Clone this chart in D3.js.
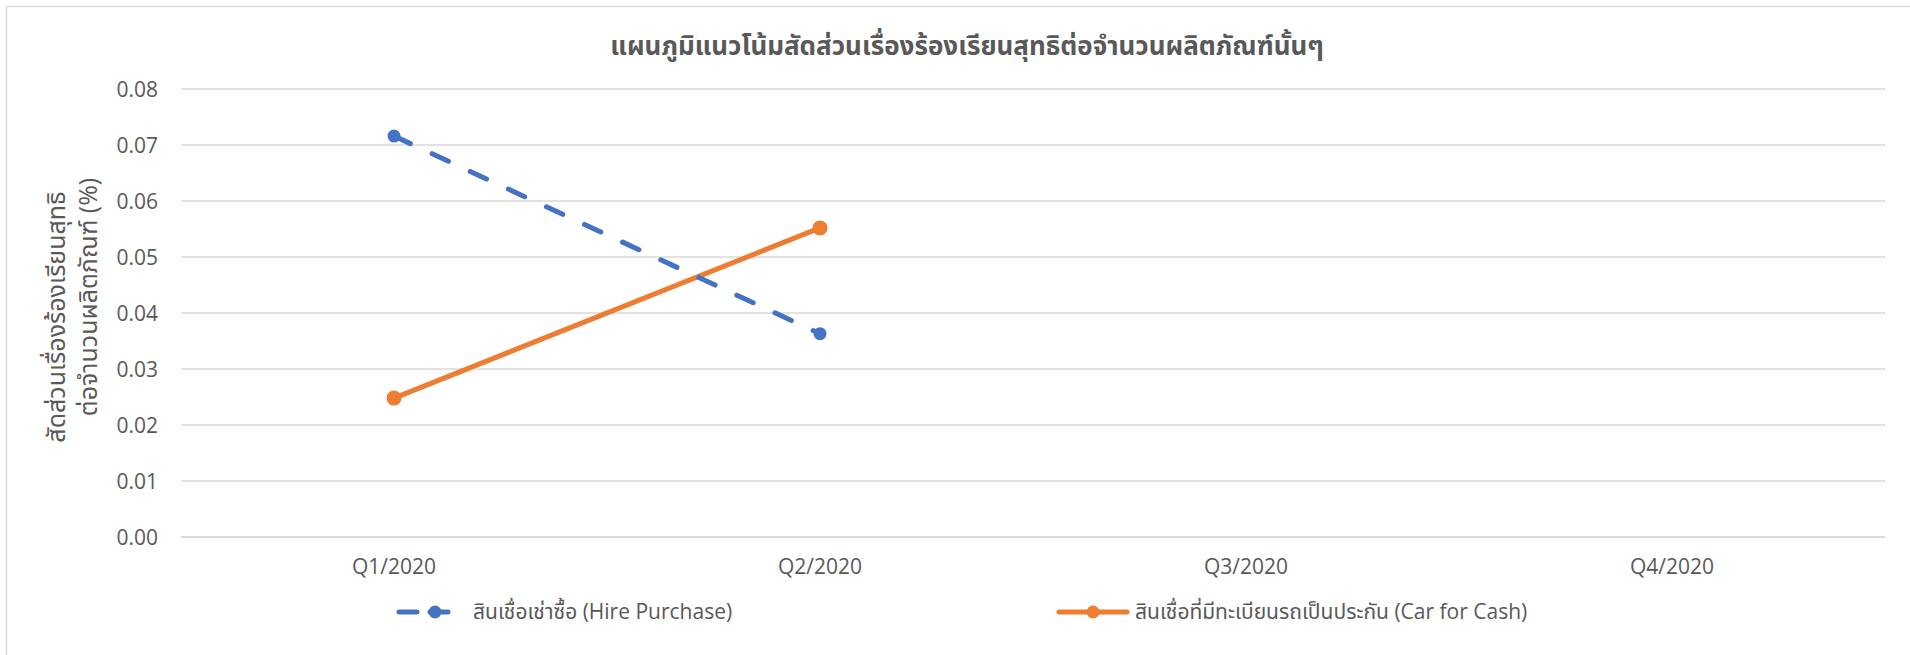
<!DOCTYPE html>
<html>
<head>
<meta charset="utf-8">
<script src="https://cdn.jsdelivr.net/npm/d3@7"></script>
<style>
  html, body { margin: 0; padding: 0; background: #fff; }
  svg { display: block; }
  text { font-family: "Open Sans", "Noto Sans Thai", "Noto Sans", "DejaVu Sans", sans-serif; fill: #595959; }
</style>
</head>
<body>
<svg id="chart" width="1910" height="655"></svg>
<script>
const categories = ["Q1/2020", "Q2/2020", "Q3/2020", "Q4/2020"];
const hirePurchase = [0.0716, 0.0363, null, null];
const carForCash = [0.0248, 0.0552, null, null];
const yTicks = [0, 0.01, 0.02, 0.03, 0.04, 0.05, 0.06, 0.07, 0.08];
const seriesNames = ["สินเชื่อเช่าซื้อ (Hire Purchase)", "สินเชื่อที่มีทะเบียนรถเป็นประกัน (Car for Cash)"];
const titleText = "แผนภูมิแนวโน้มสัดส่วนเรื่องร้องเรียนสุทธิต่อจำนวนผลิตภัณฑ์นั้นๆ";
const yTitleLines = ["สัดส่วนเรื่องร้องเรียนสุทธิ", "ต่อจำนวนผลิตภัณฑ์ (%)"];

const svg = d3.select("#chart");
const plot = { left: 181, right: 1885, top: 89, bottom: 537 };

svg.append("rect").attr("x", 6.5).attr("y", 6.5).attr("width", 1920).attr("height", 700)
  .attr("fill", "#fff").attr("stroke", "#d9d9d9").attr("stroke-width", 1.5);

const x = d3.scaleBand().domain(categories).range([plot.left, plot.right]);
const y = d3.scaleLinear().domain([0, 0.08]).range([plot.bottom, plot.top]);

// gridlines
svg.append("g").selectAll("line").data(yTicks).join("line")
  .attr("x1", plot.left).attr("x2", plot.right)
  .attr("y1", d => y(d)).attr("y2", d => y(d))
  .attr("stroke", "#d9d9d9").attr("stroke-width", d => d === 0 ? 2 : 1.5);

// y axis labels
const yAxis = d3.axisLeft(y).tickValues(yTicks).tickFormat(d3.format(".2f")).tickSize(0).tickPadding(23);
const gy = svg.append("g").attr("transform", `translate(${plot.left},0)`).call(yAxis);
gy.select(".domain").remove();
gy.selectAll("text").attr("font-size", 21).style("fill", "#595959")
  .style("font-family", '"Open Sans", sans-serif').attr("dy", "0.35em");

// x axis labels
const xAxis = d3.axisBottom(x).tickSize(0).tickPadding(22);
const gx = svg.append("g").attr("transform", `translate(0,${plot.bottom})`).call(xAxis);
gx.select(".domain").remove();
gx.selectAll("text").attr("font-size", 21).style("fill", "#595959")
  .style("font-family", '"Open Sans", sans-serif');

const cx = c => x(c) + x.bandwidth() / 2;
const line = d3.line().defined(d => d.v !== null).x(d => cx(d.c)).y(d => y(d.v));

const blueData = categories.map((c, i) => ({ c, v: hirePurchase[i] }));
const orangeData = categories.map((c, i) => ({ c, v: carForCash[i] }));

svg.append("path").datum(orangeData).attr("d", line)
  .attr("fill", "none").attr("stroke", "#ED7D31").attr("stroke-width", 5).attr("stroke-linecap", "round");
svg.append("g").selectAll("circle").data(orangeData.filter(d => d.v !== null)).join("circle")
  .attr("cx", d => cx(d.c)).attr("cy", d => y(d.v)).attr("r", 7.5).attr("fill", "#ED7D31");

svg.append("path").datum(blueData).attr("d", line)
  .attr("fill", "none").attr("stroke", "#4472C4").attr("stroke-width", 5)
  .attr("stroke-dasharray", "18,24").attr("stroke-linecap", "round");
svg.append("g").selectAll("circle").data(blueData.filter(d => d.v !== null)).join("circle")
  .attr("cx", d => cx(d.c)).attr("cy", d => y(d.v)).attr("r", 6.5).attr("fill", "#4472C4");

// title
svg.append("text").attr("x", 967).attr("y", 55).attr("text-anchor", "middle")
  .attr("font-size", 26).attr("font-weight", "bold").text(titleText);

// y axis title
const yt = svg.append("text").attr("transform", "rotate(-90)").attr("font-size", 25).attr("text-anchor", "middle");
yt.append("tspan").attr("x", -317).attr("y", 65).text(yTitleLines[0]);
yt.append("tspan").attr("x", -297).attr("y", 97).text(yTitleLines[1]);

// legend
const lg = svg.append("g");
lg.append("line").attr("x1", 399).attr("x2", 460).attr("y1", 612).attr("y2", 612)
  .attr("stroke", "#4472C4").attr("stroke-width", 5).attr("stroke-linecap", "round").attr("stroke-dasharray", "18,13");
lg.append("circle").attr("cx", 435).attr("cy", 612).attr("r", 6.5).attr("fill", "#4472C4");
lg.append("text").attr("x", 473).attr("y", 619).attr("font-size", 21).text(seriesNames[0]);

lg.append("line").attr("x1", 1059).attr("x2", 1127).attr("y1", 612).attr("y2", 612)
  .attr("stroke", "#ED7D31").attr("stroke-width", 5).attr("stroke-linecap", "round");
lg.append("circle").attr("cx", 1093).attr("cy", 612).attr("r", 6.5).attr("fill", "#ED7D31");
lg.append("text").attr("x", 1135).attr("y", 619).attr("font-size", 21).text(seriesNames[1]);
</script>
</body>
</html>
